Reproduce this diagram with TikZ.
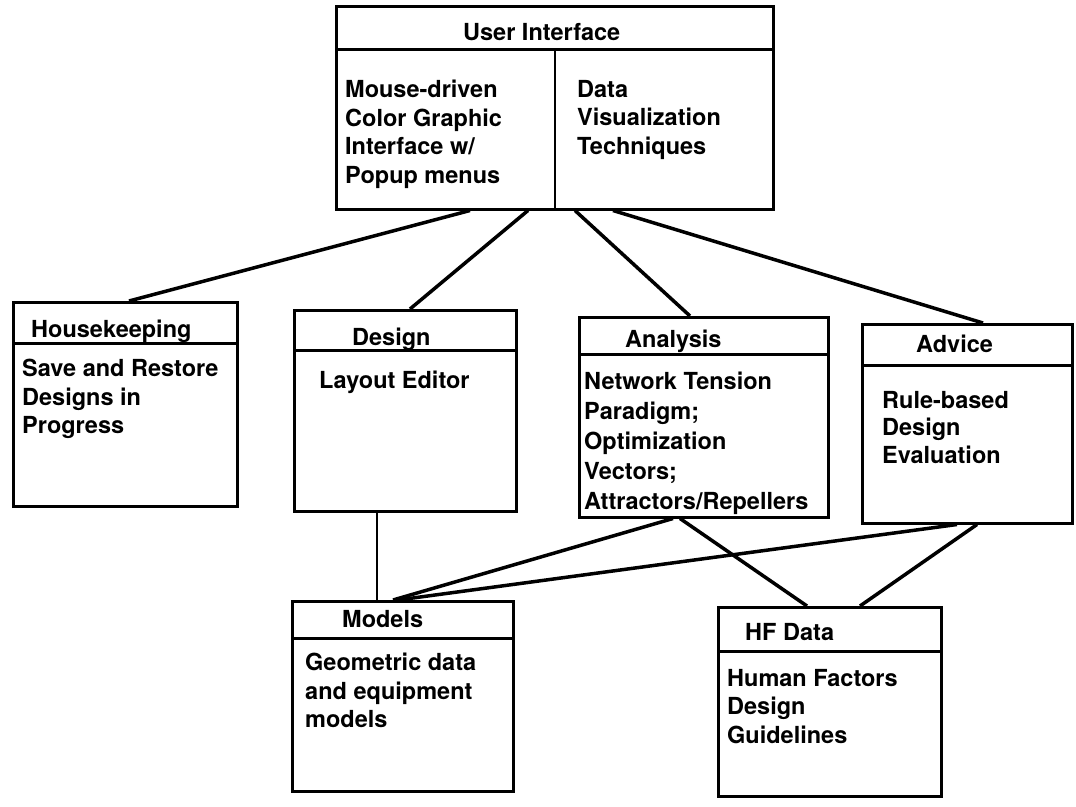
\documentclass[tikz,border=0pt]{standalone}
\usepackage{fontspec}
\setmainfont{TeX Gyre Heros}
\begin{document}
\begin{tikzpicture}[x=1pt,y=-1pt,
    box/.style={draw,line width=2.5pt,anchor=north west,inner sep=0pt},
    head/.style={draw,line width=2.5pt,anchor=north,inner sep=0pt},
    title/.style={anchor=base west,inner sep=0pt,font=\fontsize{23.5}{28}\selectfont\bfseries},
    txt/.style={anchor=north west,inner sep=0pt,align=left,font=\fontsize{23.5}{28.5}\selectfont\bfseries},
    link/.style={line width=3.5pt}]
  \useasboundingbox (0,0) rectangle (1076,806);
  \node[box,minimum width=437pt,minimum height=203pt] (ui) at (335,5) {};
  \node[head,minimum width=437pt,minimum height=43pt] (ui-h) at (ui.north) {};
  \draw[line width=2.5pt] (ui-h.south) -- (ui.south);
  \node[title] (ui-t) at ([xshift=128pt,yshift=-35pt]ui.north west) {User Interface};
  \node[txt] (ui-l) at ([xshift=10pt,yshift=-75pt]ui.north west) {Mouse-driven\\Color Graphic\\Interface w/\\Popup menus};
  \node[txt] (ui-r) at ([xshift=242pt,yshift=-75pt]ui.north west) {Data\\Visualization\\Techniques};

  \node[box,minimum width=224pt,minimum height=204pt] (hk) at (12,301) {};
  \node[head,minimum width=224pt,minimum height=41pt] (hk-h) at (hk.north) {};
  \node[title] (hk-t) at ([xshift=19pt,yshift=-36pt]hk.north west) {Housekeeping};
  \node[txt] (hk-b) at ([xshift=10pt,yshift=-58pt]hk.north west) {Save and Restore\\Designs in\\Progress};

  \node[box,minimum width=222pt,minimum height=201pt] (de) at (293,309) {};
  \node[head,minimum width=222pt,minimum height=40pt] (de-h) at (de.north) {};
  \node[title] (de-t) at ([xshift=59pt,yshift=-36pt]de.north west) {Design};
  \node[txt] (de-b) at ([xshift=26pt,yshift=-62pt]de.north west) {Layout Editor};

  \node[box,minimum width=249pt,minimum height=200pt] (an) at (578,316) {};
  \node[head,minimum width=249pt,minimum height=37pt] (an-h) at (an.north) {};
  \node[title] (an-t) at ([xshift=47pt,yshift=-31pt]an.north west) {Analysis};
  \node[txt,font=\fontsize{23.5}{30}\selectfont\bfseries] (an-b) at ([xshift=6pt,yshift=-56pt]an.north west) {Network Tension\\Paradigm;\\Optimization\\Vectors;\\Attractors/Repellers};

  \node[box,minimum width=210pt,minimum height=199pt] (ad) at (861,323) {};
  \node[head,minimum width=210pt,minimum height=41pt] (ad-h) at (ad.north) {};
  \node[title] (ad-t) at ([xshift=55pt,yshift=-29pt]ad.north west) {Advice};
  \node[txt,font=\fontsize{23.5}{27.5}\selectfont\bfseries] (ad-b) at ([xshift=21pt,yshift=-68pt]ad.north west) {Rule-based\\Design\\Evaluation};

  \node[box,minimum width=221pt,minimum height=190pt] (mo) at (291,600) {};
  \node[head,minimum width=221pt,minimum height=37pt] (mo-h) at (mo.north) {};
  \node[title] (mo-t) at ([xshift=51pt,yshift=-27pt]mo.north west) {Models};
  \node[txt] (mo-b) at ([xshift=14pt,yshift=-53pt]mo.north west) {Geometric data\\and equipment\\models};

  \node[box,minimum width=223pt,minimum height=189pt] (hf) at (717,606) {};
  \node[head,minimum width=223pt,minimum height=44pt] (hf-h) at (hf.north) {};
  \node[title] (hf-t) at ([xshift=28pt,yshift=-34pt]hf.north west) {HF Data};
  \node[txt] (hf-b) at ([xshift=10pt,yshift=-63pt]hf.north west) {Human Factors\\Design\\Guidelines};

  \draw[link] ([xshift=135pt]ui.south west) -- ([xshift=117pt]hk.north west);
  \draw[link] ([xshift=193pt]ui.south west) -- ([xshift=117pt]de.north west);
  \draw[link] ([xshift=240pt]ui.south west) -- ([xshift=112pt]an.north west);
  \draw[link] ([xshift=278pt]ui.south west) -- ([xshift=122pt]ad.north west);
  \draw[line width=2pt] ([xshift=84pt]de.south west) -- ([xshift=86pt]mo.north west);
  \draw[link] ([xshift=95pt]an.south west) -- ([xshift=102pt]mo.north west);
  \draw[link] ([xshift=102pt]an.south west) -- ([xshift=90pt]hf.north west);
  \draw[link] ([xshift=96pt]ad.south west) -- ([xshift=107pt]mo.north west);
  \draw[link] ([xshift=116pt]ad.south west) -- ([xshift=143pt]hf.north west);
\end{tikzpicture}
\end{document}
